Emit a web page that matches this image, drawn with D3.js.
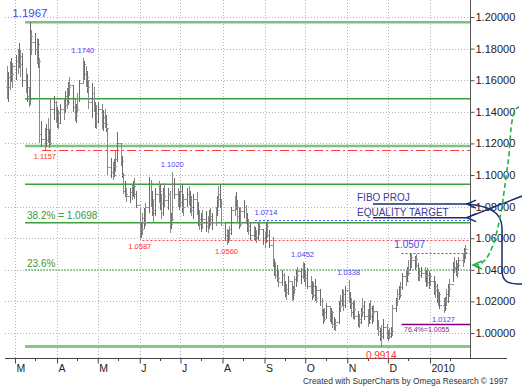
<!DOCTYPE html>
<html>
<head>
<meta charset="utf-8">
<script src="https://cdn.jsdelivr.net/npm/d3@7"></script>
<style>
  body { margin: 0; background: #fff; }
  svg { font-family: "Liberation Sans", Arial, sans-serif; }
</style>
</head>
<body>
<div id="chart"></div>
<script>
// daily bars, one row per week (Mon..Fri), starting Mon 23 Feb 2009
var hi = [
  1.1690, 1.1650, 1.1720, 1.1740, 1.1710,
  1.1760, 1.1800, 1.1835, 1.1790, 1.1770,
  1.1680, 1.1640, 1.1560, 1.1967, 1.1920,
  1.1900, 1.1870, 1.1860, 1.1740, 1.1340,
  1.1300, 1.1320, 1.1360, 1.1290, 1.1480,
  1.1500, 1.1470, 1.1430, 1.1410, 1.1450,
  1.1480, 1.1530, 1.1550, 1.1590, 1.1620,
  1.1570, 1.1480, 1.1450, 1.1520, 1.1600,
  1.1740, 1.1720, 1.1690, 1.1660, 1.1600,
  1.1580, 1.1560, 1.1460, 1.1440, 1.1460,
  1.1450, 1.1410, 1.1420, 1.1380, 1.1300,
  1.1110, 1.1080, 1.1100, 1.1150, 1.1270,
  1.1200, 1.1120, 1.1010, 1.0960, 1.0920,
  1.0920, 1.0940, 1.0960, 1.0980, 1.0900,
  1.0800, 1.0700, 1.0760, 1.0790, 1.0820,
  1.0990, 1.0970, 1.0900, 1.0850, 1.0920,
  1.0960, 1.0940, 1.0880, 1.0920, 1.0950,
  1.0920, 1.0900, 1.0760, 1.1020, 1.0980,
  1.0920, 1.0900, 1.0950, 1.0940, 1.0880,
  1.0920, 1.0930, 1.0900, 1.0870, 1.0880,
  1.0890, 1.0830, 1.0780, 1.0760, 1.0780,
  1.0770, 1.0740, 1.0780, 1.0790, 1.0760,
  1.0800, 1.0870, 1.0930, 1.0940, 1.0850,
  1.0700, 1.0660, 1.0650, 1.0680, 1.0800,
  1.0870, 1.0890, 1.0840, 1.0790, 1.0800,
  1.0840, 1.0810, 1.0760, 1.0720, 1.0700,
  1.0680, 1.0670, 1.0650, 1.0700, 1.0714,
  1.0660, 1.0640, 1.0700, 1.0710, 1.0650,
  1.0610, 1.0470, 1.0450, 1.0430, 1.0400,
  1.0400, 1.0380, 1.0330, 1.0310, 1.0360,
  1.0330, 1.0300, 1.0360, 1.0400, 1.0420,
  1.0410, 1.0452, 1.0440, 1.0400, 1.0410,
  1.0360, 1.0330, 1.0320, 1.0340, 1.0300,
  1.0280, 1.0220, 1.0150, 1.0160, 1.0190,
  1.0170, 1.0160, 1.0140, 1.0100, 1.0090,
  1.0200, 1.0240, 1.0280, 1.0270, 1.0300,
  1.0338, 1.0260, 1.0220, 1.0200, 1.0210,
  1.0140, 1.0120, 1.0160, 1.0220, 1.0200,
  1.0150, 1.0190, 1.0210, 1.0170, 1.0180,
  1.0140, 1.0080, 1.0030, 1.0050, 1.0090,
  1.0060, 1.0020, 1.0030, 1.0040, 1.0180,
  1.0220, 1.0280, 1.0300, 1.0320, 1.0380,
  1.0400, 1.0420, 1.0460, 1.0507, 1.0500,
  1.0490, 1.0500, 1.0440, 1.0410, 1.0420,
  1.0420, 1.0400, 1.0410, 1.0390, 1.0380,
  1.0360, 1.0330, 1.0310, 1.0280, 1.0260,
  1.0220, 1.0230, 1.0280, 1.0310, 1.0340,
  1.0450, 1.0480, 1.0460, 1.0440, 1.0480,
  1.0500, 1.0540, 1.0560
];
var lo = [
  1.1480, 1.1460, 1.1540, 1.1590, 1.1550,
  1.1600, 1.1640, 1.1680, 1.1620, 1.1560,
  1.1520, 1.1460, 1.1430, 1.1440, 1.1760,
  1.1760, 1.1700, 1.1680, 1.1200, 1.1180,
  1.1157, 1.1180, 1.1200, 1.1170, 1.1190,
  1.1350, 1.1330, 1.1300, 1.1290, 1.1320,
  1.1350, 1.1390, 1.1420, 1.1440, 1.1500,
  1.1400, 1.1340, 1.1330, 1.1390, 1.1460,
  1.1580, 1.1600, 1.1560, 1.1520, 1.1420,
  1.1360, 1.1400, 1.1300, 1.1290, 1.1330,
  1.1290, 1.1280, 1.1300, 1.1270, 1.1000,
  1.0980, 1.0970, 1.0985, 1.1020, 1.1080,
  1.1060, 1.0980, 1.0880, 1.0860, 1.0830,
  1.0820, 1.0840, 1.0860, 1.0850, 1.0790,
  1.0587, 1.0600, 1.0620, 1.0660, 1.0680,
  1.0760, 1.0800, 1.0740, 1.0700, 1.0740,
  1.0820, 1.0780, 1.0720, 1.0740, 1.0800,
  1.0780, 1.0630, 1.0660, 1.0710, 1.0850,
  1.0800, 1.0780, 1.0800, 1.0760, 1.0740,
  1.0800, 1.0810, 1.0760, 1.0740, 1.0720,
  1.0750, 1.0680, 1.0650, 1.0640, 1.0660,
  1.0640, 1.0630, 1.0660, 1.0680, 1.0650,
  1.0680, 1.0740, 1.0800, 1.0790, 1.0680,
  1.0580, 1.0560, 1.0570, 1.0580, 1.0620,
  1.0740, 1.0780, 1.0700, 1.0660, 1.0670,
  1.0730, 1.0690, 1.0640, 1.0620, 1.0590,
  1.0590, 1.0580, 1.0570, 1.0590, 1.0620,
  1.0560, 1.0540, 1.0570, 1.0600, 1.0540,
  1.0420, 1.0360, 1.0340, 1.0320, 1.0290,
  1.0300, 1.0260, 1.0230, 1.0210, 1.0240,
  1.0205, 1.0210, 1.0250, 1.0290, 1.0320,
  1.0310, 1.0340, 1.0320, 1.0290, 1.0280,
  1.0250, 1.0210, 1.0220, 1.0200, 1.0190,
  1.0170, 1.0110, 1.0060, 1.0070, 1.0090,
  1.0070, 1.0060, 1.0030, 1.0020, 1.0010,
  1.0060, 1.0130, 1.0170, 1.0140, 1.0160,
  1.0190, 1.0150, 1.0100, 1.0090, 1.0080,
  1.0040, 1.0030, 1.0060, 1.0100, 1.0080,
  1.0040, 1.0060, 1.0080, 1.0060, 1.0070,
  1.0020, 0.9980, 0.9950, 0.9914, 0.9960,
  0.9960, 0.9950, 0.9960, 0.9970, 0.9980,
  1.0130, 1.0170, 1.0210, 1.0220, 1.0270,
  1.0300, 1.0320, 1.0360, 1.0390, 1.0410,
  1.0400, 1.0410, 1.0330, 1.0330, 1.0350,
  1.0320, 1.0290, 1.0300, 1.0280, 1.0300,
  1.0240, 1.0220, 1.0190, 1.0170, 1.0150,
  1.0127, 1.0140, 1.0170, 1.0190, 1.0230,
  1.0320, 1.0380, 1.0360, 1.0350, 1.0390,
  1.0420, 1.0440, 1.0470
];
var cl = [
  1.1560, 1.1620, 1.1680, 1.1640, 1.1690,
  1.1720, 1.1770, 1.1700, 1.1750, 1.1600,
  1.1560, 1.1500, 1.1480, 1.1880, 1.1840,
  1.1800, 1.1830, 1.1720, 1.1260, 1.1230,
  1.1220, 1.1290, 1.1250, 1.1200, 1.1420,
  1.1460, 1.1380, 1.1330, 1.1390, 1.1420,
  1.1440, 1.1500, 1.1460, 1.1560, 1.1570,
  1.1430, 1.1380, 1.1420, 1.1490, 1.1580,
  1.1700, 1.1640, 1.1620, 1.1560, 1.1460,
  1.1520, 1.1430, 1.1340, 1.1390, 1.1420,
  1.1330, 1.1370, 1.1320, 1.1300, 1.1050,
  1.1020, 1.1000, 1.1060, 1.1100, 1.1200,
  1.1090, 1.1000, 1.0900, 1.0880, 1.0870,
  1.0890, 1.0870, 1.0930, 1.0880, 1.0810,
  1.0640, 1.0660, 1.0730, 1.0700, 1.0800,
  1.0950, 1.0830, 1.0780, 1.0760, 1.0880,
  1.0900, 1.0820, 1.0760, 1.0870, 1.0840,
  1.0880, 1.0690, 1.0720, 1.0950, 1.0880,
  1.0860, 1.0830, 1.0900, 1.0800, 1.0850,
  1.0880, 1.0840, 1.0800, 1.0780, 1.0850,
  1.0780, 1.0720, 1.0690, 1.0700, 1.0720,
  1.0680, 1.0700, 1.0740, 1.0720, 1.0700,
  1.0780, 1.0850, 1.0880, 1.0820, 1.0700,
  1.0620, 1.0600, 1.0630, 1.0660, 1.0780,
  1.0840, 1.0800, 1.0740, 1.0690, 1.0770,
  1.0800, 1.0720, 1.0680, 1.0650, 1.0620,
  1.0650, 1.0610, 1.0600, 1.0680, 1.0660,
  1.0600, 1.0580, 1.0680, 1.0620, 1.0560,
  1.0450, 1.0400, 1.0370, 1.0350, 1.0320,
  1.0370, 1.0290, 1.0260, 1.0280, 1.0330,
  1.0240, 1.0280, 1.0340, 1.0370, 1.0390,
  1.0360, 1.0420, 1.0350, 1.0370, 1.0300,
  1.0280, 1.0240, 1.0300, 1.0220, 1.0270,
  1.0200, 1.0130, 1.0090, 1.0130, 1.0170,
  1.0100, 1.0130, 1.0060, 1.0050, 1.0070,
  1.0170, 1.0210, 1.0250, 1.0180, 1.0270,
  1.0220, 1.0190, 1.0130, 1.0150, 1.0110,
  1.0070, 1.0090, 1.0130, 1.0170, 1.0110,
  1.0070, 1.0160, 1.0110, 1.0130, 1.0140,
  1.0040, 1.0010, 0.9980, 1.0000, 1.0040,
  0.9990, 0.9980, 1.0000, 1.0010, 1.0160,
  1.0200, 1.0250, 1.0240, 1.0290, 1.0360,
  1.0330, 1.0400, 1.0380, 1.0480, 1.0460,
  1.0470, 1.0430, 1.0370, 1.0390, 1.0380,
  1.0350, 1.0370, 1.0320, 1.0360, 1.0330,
  1.0270, 1.0300, 1.0220, 1.0250, 1.0180,
  1.0160, 1.0200, 1.0250, 1.0280, 1.0310,
  1.0420, 1.0410, 1.0380, 1.0430, 1.0460,
  1.0480, 1.0510, 1.0530
];

var yTicks = [1.00, 1.02, 1.04, 1.06, 1.08, 1.10, 1.12, 1.14, 1.16, 1.18, 1.20];
var monthLabels = ["M", "A", "M", "J", "J", "A", "S", "O", "N", "D", "2010"];

// fibonacci retracement levels 0.9914 -> 1.1967
var fibLevels = [0.9914, 1.0399, 1.0698, 1.0941, 1.1183, 1.1482, 1.1967];

// price labels: [text, date of bar, price]
var highLabels = [
  ["1.1967", new Date(2009, 2, 12), 1.1967],
  ["1.1740", new Date(2009, 3, 20), 1.1740],
  ["1.1020", new Date(2009, 5, 25), 1.1020],
  ["1.0714", new Date(2009, 8, 2), 1.0714],
  ["1.0452", new Date(2009, 8, 29), 1.0452],
  ["1.0338", new Date(2009, 10, 2), 1.0338],
  ["1.0507", new Date(2009, 11, 17), 1.0507]
];
var lowLabels = [
  ["1.1157", new Date(2009, 2, 23), 1.1157],
  ["1.0587", new Date(2009, 5, 1), 1.0587],
  ["1.0560", new Date(2009, 7, 4), 1.0560],
  ["1.0127", new Date(2010, 0, 11), 1.0127],
  ["0.9914", new Date(2009, 10, 26), 0.9914]
];

var dates = [];
for (var d = new Date(2009, 1, 23); dates.length < hi.length; d.setDate(d.getDate() + 1)) {
  if (d.getDay() % 6 !== 0) dates.push(new Date(d));
}

var width = 522, height = 390,
    plotLeft = 5, axisX = 470, axisY = 358;

var svg = d3.select("#chart").append("svg")
  .attr("width", width)
  .attr("height", height);

svg.append("rect").attr("width", width).attr("height", height).attr("fill", "#fff");

var x = d3.scaleTime()
  .domain([new Date(2009, 2, 1), new Date(2010, 0, 1)])
  .range([15, 430]);
var y = d3.scaleLinear().domain([1.0, 1.2]).range([333, 17]);

var months = d3.timeMonth.range(new Date(2009, 2, 1), new Date(2010, 1, 1));
var mids = months.map(m => new Date(m.getFullYear(), m.getMonth(), 16));

// grid
svg.append("g").selectAll("line")
  .data(yTicks)
  .enter().append("line")
  .attr("x1", plotLeft).attr("x2", axisX)
  .attr("y1", d => Math.round(y(d)) + 0.5).attr("y2", d => Math.round(y(d)) + 0.5)
  .attr("stroke", "#b4b4b4").attr("stroke-dasharray", "1,2");

svg.append("g").selectAll("line")
  .data(months)
  .enter().append("line")
  .attr("x1", d => Math.round(x(d)) + 0.5).attr("x2", d => Math.round(x(d)) + 0.5)
  .attr("y1", 0).attr("y2", axisY)
  .attr("stroke", "#b4b4b4").attr("stroke-dasharray", "1,2");

// fib lines
var fibStyle = [
  {c: "#86c986", w: 3},
  {c: "#44b044", w: 1, dash: "2,1"},
  {c: "#3c9e3c", w: 1.5},
  {c: "#3c9e3c", w: 1.5},
  {c: "#7cc27c", w: 2.5},
  {c: "#3c9e3c", w: 1.5},
  {c: "#7cc27c", w: 2.5}
];
svg.append("g").selectAll("line")
  .data(fibLevels)
  .enter().append("line")
  .attr("x1", 25).attr("x2", axisX)
  .attr("y1", d => y(d)).attr("y2", d => y(d))
  .attr("stroke", (d, i) => fibStyle[i].c)
  .attr("stroke-width", (d, i) => fibStyle[i].w)
  .attr("stroke-dasharray", (d, i) => fibStyle[i].dash || null);

// other reference lines
function hline(price, from, color, dash, w) {
  svg.append("line")
    .attr("x1", x(from)).attr("x2", axisX)
    .attr("y1", Math.round(y(price)) + 0.5).attr("y2", Math.round(y(price)) + 0.5)
    .attr("stroke", color).attr("stroke-width", w || 1)
    .attr("stroke-dasharray", dash);
}
hline(1.1157, new Date(2009, 2, 21), "#ff3b3b", "9,3,2,3");
hline(1.0590, new Date(2009, 5, 3), "#ff4a4a", "2,2");
hline(1.0714, new Date(2009, 7, 25), "#4a4aff", "2,2");
hline(1.0507, new Date(2009, 11, 11), "#4a4aff", "2,2");
hline(1.0055, new Date(2009, 11, 11), "#800080", null, 1.5);

// bars
var bars = svg.append("g").attr("shape-rendering", "crispEdges");
dates.forEach(function(dt, i) {
  var bx = Math.round(x(dt)) + 0.5;
  var op = i > 0 ? cl[i - 1] : cl[i];
  bars.append("line")
    .attr("x1", bx - 2).attr("x2", bx)
    .attr("y1", Math.round(y(op)) + 0.5).attr("y2", Math.round(y(op)) + 0.5)
    .attr("stroke", "#9c9c9c");
  bars.append("line")
    .attr("x1", bx).attr("x2", bx + 2)
    .attr("y1", Math.round(y(cl[i])) + 0.5).attr("y2", Math.round(y(cl[i])) + 0.5)
    .attr("stroke", "#9c9c9c");
  bars.append("line")
    .attr("x1", bx).attr("x2", bx)
    .attr("y1", y(hi[i])).attr("y2", y(lo[i]))
    .attr("stroke", i % 2 ? "#6c6c6c" : "#8a8a8a");
});

// y axis
var yAxis = d3.axisRight(y).tickValues(yTicks).tickSize(4).tickFormat(d3.format(".5f"));
var gy = svg.append("g").attr("transform", `translate(${axisX + 0.5},0)`).call(yAxis);
gy.select(".domain").remove();
gy.selectAll("line").attr("stroke", "#555");
gy.selectAll("text").attr("fill", "#222").style("font-size", "11px").attr("x", 5);
svg.append("line")
  .attr("x1", axisX + 0.5).attr("x2", axisX + 0.5)
  .attr("y1", 0).attr("y2", axisY)
  .attr("stroke", "#555");

// x axis
var xAxis = d3.axisBottom(x).tickValues(months).tickSize(5)
  .tickFormat((d, i) => monthLabels[i]);
var gx = svg.append("g").attr("transform", `translate(0,${axisY + 0.5})`).call(xAxis);
gx.select(".domain").remove();
gx.selectAll("line").attr("stroke", "#444");
gx.selectAll("text")
  .attr("text-anchor", "start").attr("dx", 1).attr("y", 6)
  .attr("fill", "#222").style("font-size", "10.5px");
svg.append("g").selectAll("line")
  .data(mids)
  .enter().append("line")
  .attr("x1", d => Math.round(x(d)) + 0.5).attr("x2", d => Math.round(x(d)) + 0.5)
  .attr("y1", axisY).attr("y2", axisY + 3)
  .attr("stroke", "#444");
svg.append("line")
  .attr("x1", plotLeft).attr("x2", 507)
  .attr("y1", axisY + 0.5).attr("y2", axisY + 0.5)
  .attr("stroke", "#444");

// high / low labels
svg.append("g").selectAll("text")
  .data(highLabels)
  .enter().append("text")
  .attr("x", d => x(d[1]))
  .attr("y", d => y(d[2]) - 5)
  .attr("text-anchor", "middle")
  .attr("fill", "#4646ee")
  .style("font-size", d => d[0] === "1.1967" ? "11.5px" : d[0] === "1.0507" ? "10px" : "7.5px")
  .text(d => d[0]);

svg.append("g").selectAll("text")
  .data(lowLabels)
  .enter().append("text")
  .attr("x", d => x(d[1]))
  .attr("y", d => y(d[2]) + (d[0] === "0.9914" ? 12 : 9))
  .attr("text-anchor", "middle")
  .attr("fill", d => d[0] === "1.0127" ? "#4646ee" : "#ff3030")
  .style("font-size", d => d[0] === "0.9914" ? "10px" : "7.5px")
  .text(d => d[0]);

// fib texts
svg.append("text").attr("x", 27).attr("y", y(1.0698) - 4)
  .attr("fill", "#3a9a3a").style("font-size", "10px").text("38.2% = 1.0698");
svg.append("text").attr("x", 27).attr("y", y(1.0399) - 3)
  .attr("fill", "#3a9a3a").style("font-size", "10px").text("23.6%");
svg.append("text").attr("x", 404).attr("y", y(1.0055) + 8)
  .attr("fill", "#8a1a8a").style("font-size", "7px").text("76.4%=1.0055");

// projection annotation
var navy = "#1c2c70";
var projTop = 1.0816, projBot = 1.0730;
svg.append("text").attr("x", 357).attr("y", y(projTop) - 3)
  .attr("fill", "#3a3a98").style("font-size", "10px").text("FIBO PROJ");
svg.append("text").attr("x", 357).attr("y", y(projBot) - 2)
  .attr("fill", "#3a3a98").style("font-size", "10px").text("EQUALITY TARGET");
[projTop, projBot].forEach(function(p) {
  var py = y(p);
  svg.append("line").attr("x1", 373).attr("x2", 467)
    .attr("y1", py).attr("y2", py)
    .attr("stroke", navy).attr("stroke-width", 1.5);
  svg.append("path")
    .attr("d", `M476,${py - 4} L467,${py} L476,${py + 4}`)
    .attr("fill", "none").attr("stroke", navy).attr("stroke-width", 1.5);
});
svg.append("line").attr("x1", 522).attr("y1", y(projTop) - 8)
  .attr("x2", 467).attr("y2", y(projBot))
  .attr("stroke", navy).attr("stroke-width", 1.5);
var t = y(projTop);
svg.append("path")
  .attr("d", `M467,${t} C486,${t + 2} 502,${t + 6} 502,${t + 24} L502,${t + 66} C502,${t + 78} 508,${t + 80} 522,${t + 80}`)
  .attr("fill", "none").attr("stroke", navy).attr("stroke-width", 1.5);

// green dashed arrow
var g = y(1.0430);
svg.append("path")
  .attr("d", `M474,${g} C490,${g + 2} 497,${g - 30} 502,${g - 58} L509,${g - 110} C511,${g - 140} 512,${g - 156} 519,${g - 158}`)
  .attr("fill", "none").attr("stroke", "#1db34a").attr("stroke-width", 1.6)
  .attr("stroke-dasharray", "5,3");
svg.append("path")
  .attr("d", `M482,${g - 4} L473,${g} L482,${g + 4}`)
  .attr("fill", "none").attr("stroke", "#1db34a").attr("stroke-width", 1.5);

// footer
svg.append("text").attr("x", 508).attr("y", 384)
  .attr("text-anchor", "end").attr("fill", "#333").style("font-size", "8.4px")
  .text("Created with SuperCharts by Omega Research \u00a9 1997");
</script>
</body>
</html>
